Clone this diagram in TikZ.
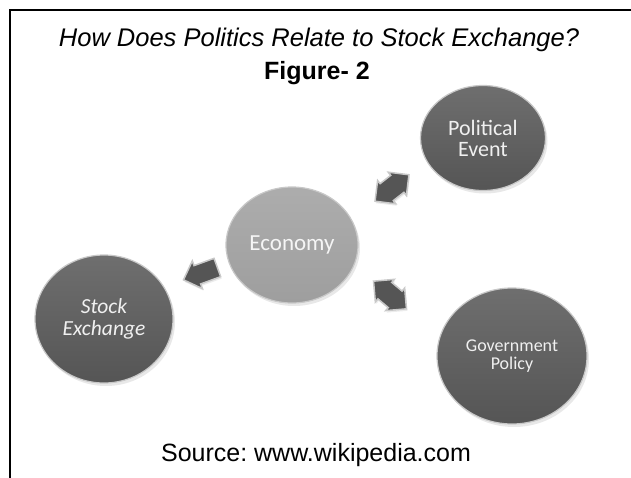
\documentclass[tikz,border=0pt]{standalone}
\usepackage{fontspec}
\setmainfont{Liberation Sans}
\newfontfamily\discfont{Carlito}
\usetikzlibrary{shapes.geometric,shapes.arrows,shadows}
\frenchspacing

\definecolor{discdark}{RGB}{85,85,85}
\definecolor{disclight}{RGB}{158,158,158}
\definecolor{rimgray}{RGB}{200,200,200}

\tikzset{
  disc/.style={ellipse, inner sep=0pt, align=center, text=gray!12,
    font=\discfont\fontsize{22}{21}\selectfont,
    draw=rimgray, line width=1.2pt,
    drop shadow={shadow xshift=2pt, shadow yshift=-3pt, fill=gray!35}},
  darkdisc/.style={disc, top color=discdark!85!white, bottom color=discdark},
  lightdisc/.style={disc, top color=disclight!85!white, bottom color=disclight},
  dblarrow/.style={double arrow, fill=discdark, draw=rimgray, line width=1.5pt,
    minimum height=41pt, inner sep=10pt,
    double arrow head extend=4pt,
    drop shadow={shadow xshift=1pt, shadow yshift=-2pt, fill=gray!30}},
  onearrow/.style={single arrow, fill=discdark, draw=rimgray, line width=1.5pt,
    minimum height=36pt, inner sep=9pt,
    single arrow head extend=5pt,
    drop shadow={shadow xshift=1pt, shadow yshift=-2pt, fill=gray!30}}
}

\begin{document}
\begin{tikzpicture}[x=1pt,y=-1pt]
  \useasboundingbox (0,0) rectangle (631,478);
  % frame
  \draw[line width=1.2pt] (10,478) -- (10,10) -- (631,10);

  % headings
  \node (title) at (319,40) {\fontsize{25.5}{28}\selectfont\itshape How Does Politics Relate to Stock Exchange?};
  \node (fig) at (317,73) {\fontsize{25}{28}\selectfont\bfseries Figure- 2};
  \node (src) at (316,455) {\fontsize{25}{28}\selectfont Source: www.wikipedia.com};

  % discs
  \node[darkdisc, minimum width=125pt, minimum height=105pt] (pol) at (483,138) {Political\\Event};
  \node[lightdisc, minimum width=132pt, minimum height=116pt, font=\discfont\fontsize{23}{24}\selectfont, text=gray!8] (eco) at (292,245) {Economy};
  \node[darkdisc, minimum width=138pt, minimum height=128pt, font=\discfont\itshape\fontsize{21.5}{22}\selectfont] (stx) at (104,319) {Stock\\Exchange};
  \node[darkdisc, minimum width=150pt, minimum height=136pt, font=\discfont\fontsize{18}{18}\selectfont] (gov) at (512,356) {Government\\Policy};

  % arrows between the discs
  \node[dblarrow, rotate=38] (ecopol) at (392,188) {};
  \node[dblarrow, rotate=-40] (ecogov) at (390,295) {};
  \node[onearrow, rotate=200] (ecostx) at (205,272) {};
\end{tikzpicture}
\end{document}
